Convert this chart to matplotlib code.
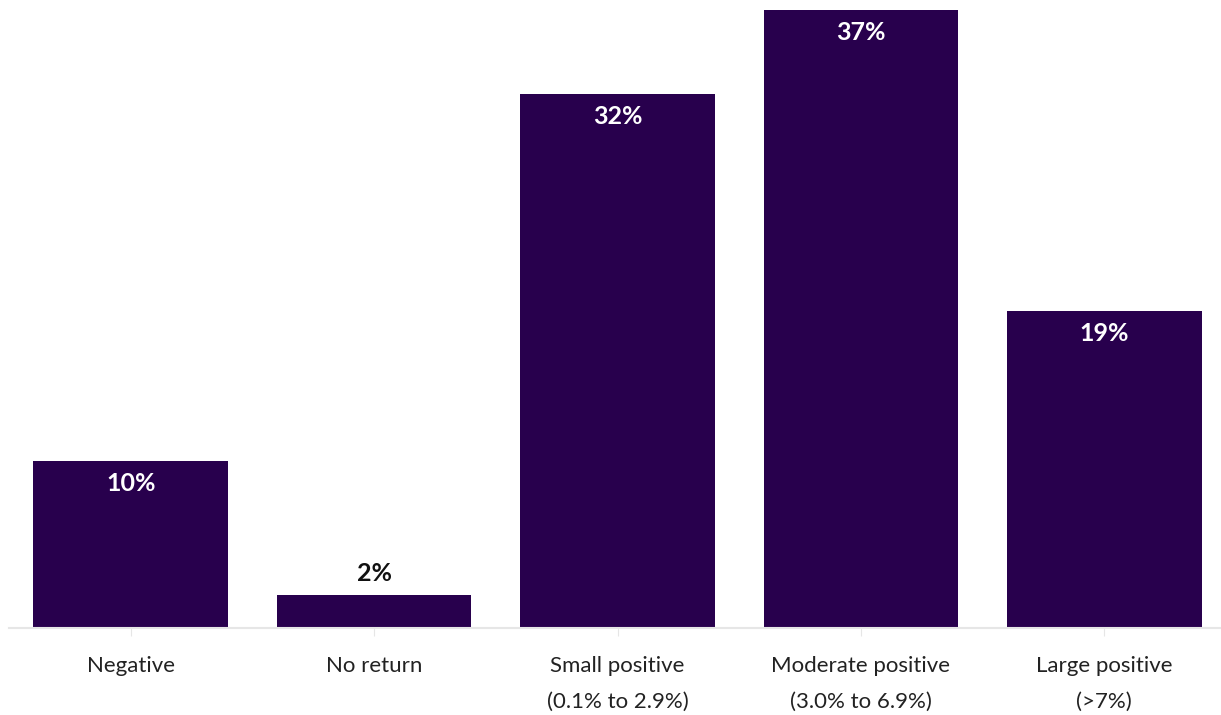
import matplotlib
matplotlib.use("Agg")
import matplotlib.pyplot as plt

categories = ["Negative", "No return", "Small positive\n(0.1% to 2.9%)",
              "Moderate positive\n(3.0% to 6.9%)", "Large positive\n(>7%)"]
values = [10, 2, 32, 37, 19]
labels = ["10%", "2%", "32%", "37%", "19%"]

plt.rcParams['font.family'] = ['Lato', 'DejaVu Sans']

fig = plt.figure(figsize=(12.21, 7.15), dpi=100)
ax = fig.add_axes([9/1221, 87/715, 1217/1221, 618/715])

x = range(len(values))
bars = ax.bar(x, values, width=0.8, color="#28004d")

ax.set_xlim(-0.5, 4.5)
ax.set_ylim(0, 37)

for b, v, t in zip(bars, values, labels):
    cx = b.get_x() + b.get_width() / 2
    if v < 5:
        # small bar: label sits above in dark text
        ax.annotate(t, (cx, v), xytext=(0, 15.5), textcoords="offset points",
                    ha="center", va="center", fontsize=18, fontweight="bold", color="#111111")
    else:
        ax.annotate(t, (cx, v), xytext=(0, -16.5), textcoords="offset points",
                    ha="center", va="center", fontsize=18, fontweight="bold", color="white")

ax.set_xticks(list(x))
ax.set_xticklabels(categories, fontsize=16, color="#222222", linespacing=2.0)
ax.tick_params(axis="x", length=6, color="#e6e6e6", pad=14)
ax.set_yticks([])
for s in ["top", "right", "left"]:
    ax.spines[s].set_visible(False)
ax.spines["bottom"].set_color("#e6e6e6")
ax.spines["bottom"].set_linewidth(1.5)

fig.savefig("out.png", dpi=100)
